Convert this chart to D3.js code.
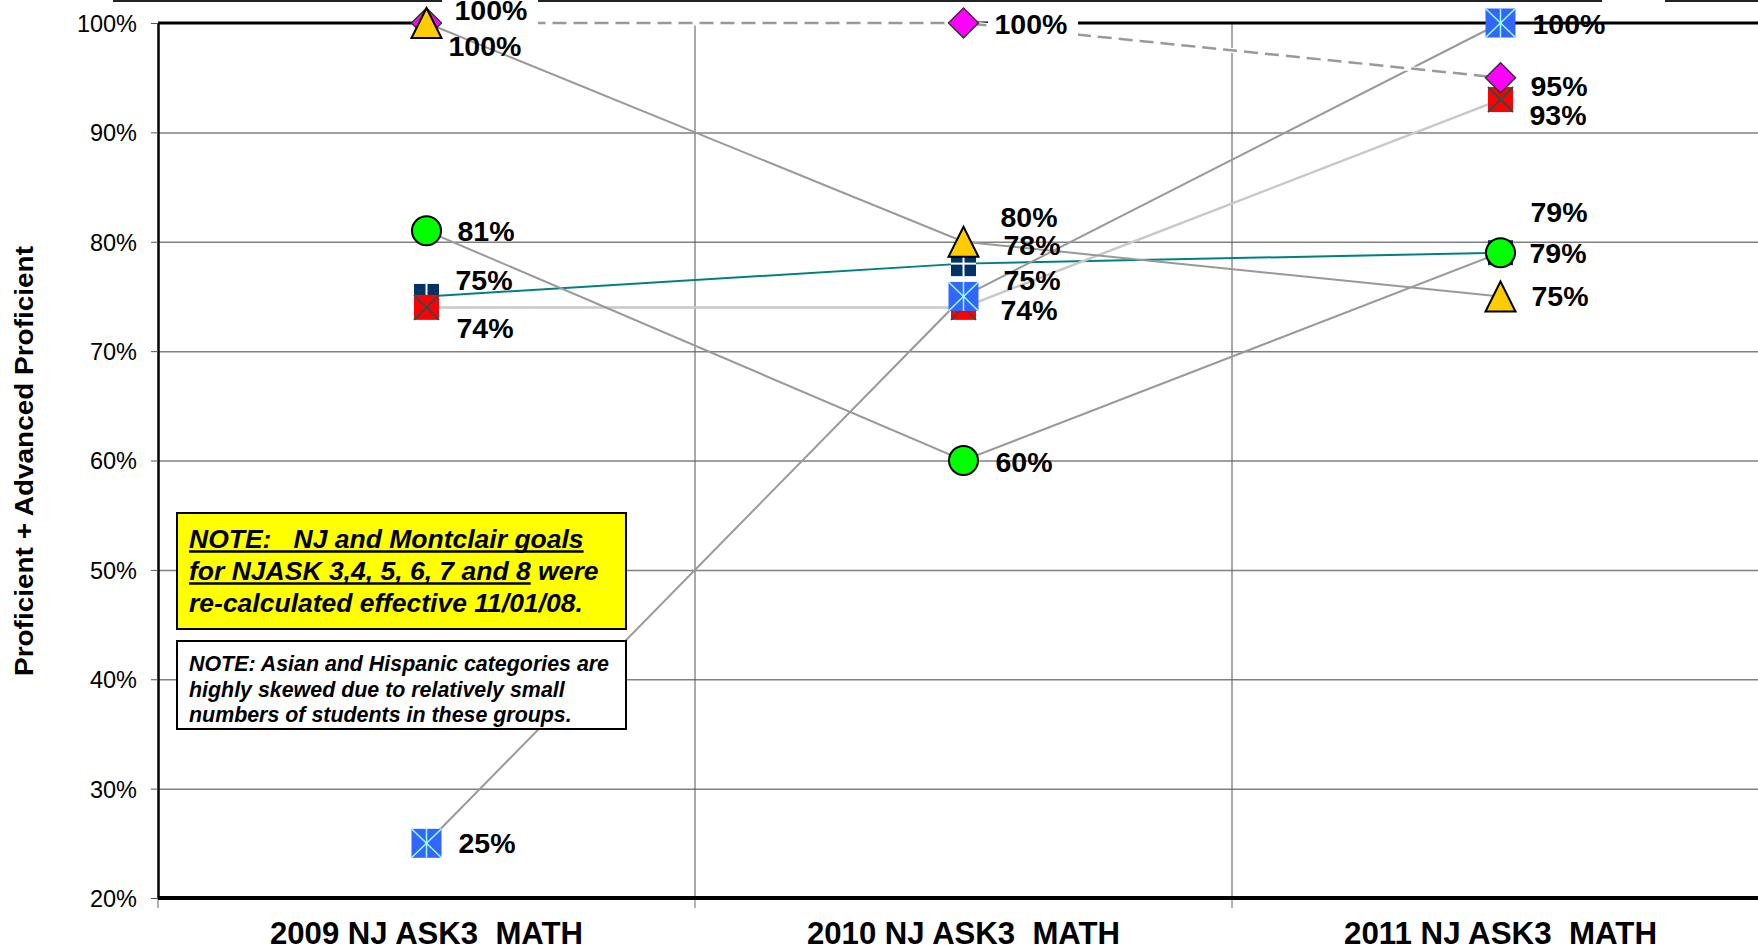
<!DOCTYPE html>
<html><head><meta charset="utf-8">
<script src="https://cdn.jsdelivr.net/npm/d3@7"></script>
<style>
body{margin:0;background:#fff;}
svg{display:block;font-family:"Liberation Sans",Arial,sans-serif;}
</style>
</head><body>
<script>
// ---------- data ----------
const categories = ["2009 NJ ASK3  MATH", "2010 NJ ASK3  MATH", "2011 NJ ASK3  MATH"];
const yTicks = [0.2, 0.3, 0.4, 0.5, 0.6, 0.7, 0.8, 0.9, 1.0];
const diamondValues  = [1.00, 1.00, 0.95];
const triangleValues = [1.00, 0.80, 0.75];
const circleValues   = [0.81, 0.60, 0.79];
const navyValues     = [0.75, 0.78, 0.79];
const redValues      = [0.74, 0.74, 0.93];
const blueValues     = [0.25, 0.75, 1.00];
const yTitle = "Proficient + Advanced Proficient";
const note1 = [
  [{t: "NOTE:   NJ and Montclair goals", u: true}],
  [{t: "for NJASK 3,4, 5, 6, 7 and 8", u: true}, {t: " were", u: false}],
  [{t: "re-calculated effective 11/01/08", u: false}, {t: ".", u: false}]
];
const note2 = [
  "NOTE: Asian and Hispanic categories are",
  "highly skewed due to relatively small",
  "numbers of students in these groups."
];

// ---------- layout / style ----------
const W = 1758, H = 948;
const plotL = 158, plotR = 1769, plotT = 23, plotB = 898;
const series = [
  {key: "navy",     values: navyValues,     stroke: "#008080", width: 2,   dash: null,   lab: [[29,-16],[40,-19],[30,-41]]},
  {key: "red",      values: redValues,      stroke: "#c8c8c8", width: 2.5, dash: null,   lab: [[30,21],[37,3],[29,15]]},
  {key: "blue",     values: blueValues,     stroke: "#999999", width: 2,   dash: null,   lab: [[32,0],[40,-16],[32,1]]},
  {key: "diamond",  values: diamondValues,  stroke: "#999999", width: 2.5, dash: "14,7", lab: [[28,-13],[31,1],[30,8]]},
  {key: "triangle", values: triangleValues, stroke: "#999999", width: 2,   dash: null,   lab: [[22,23],[37,-25],[31,0]]},
  {key: "circle",   values: circleValues,   stroke: "#999999", width: 2,   dash: null,   lab: [[31,0],[32,1],[29,0]]}
];

const svg = d3.select("body").append("svg").attr("width", W).attr("height", H);

const x = d3.scaleBand().domain(categories).range([plotL, plotR]).paddingInner(0).paddingOuter(0);
const y = d3.scaleLinear().domain([0.2, 1.0]).range([plotB, plotT]);
const cx = c => x(c) + x.bandwidth() / 2;

// stray top border line of the image
svg.append("line").attr("x1", 113).attr("x2", 1602).attr("y1", 1).attr("y2", 1).attr("stroke", "#222").attr("stroke-width", 2);
svg.append("line").attr("x1", 1665).attr("x2", W).attr("y1", 1).attr("y2", 1).attr("stroke", "#222").attr("stroke-width", 2);

// horizontal gridlines
const grid = svg.append("g").attr("transform", `translate(${plotL},0)`)
  .call(d3.axisLeft(y).tickValues(yTicks.filter(v => v > 0.2 && v < 1.0)).tickSize(-(plotR - plotL)).tickFormat(""));
grid.select(".domain").remove();
grid.selectAll(".tick line").attr("stroke", "#808080").attr("stroke-width", 1.5);

// vertical gridlines at category boundaries
svg.append("g").selectAll("line").data(categories.slice(1)).join("line")
  .attr("x1", d => x(d)).attr("x2", d => x(d)).attr("y1", plotT).attr("y2", plotB)
  .attr("stroke", "#555").attr("stroke-width", 1);

// x-axis boundary ticks
svg.append("g").selectAll("line").data(categories).join("line")
  .attr("x1", d => x(d)).attr("x2", d => x(d)).attr("y1", plotB).attr("y2", plotB + 10)
  .attr("stroke", "#666").attr("stroke-width", 1);

// top and bottom plot borders
svg.append("line").attr("x1", plotL).attr("x2", plotR).attr("y1", y(1.0)).attr("y2", y(1.0)).attr("stroke", "#000").attr("stroke-width", 3);
svg.append("line").attr("x1", plotL).attr("x2", plotR).attr("y1", y(0.2)).attr("y2", y(0.2)).attr("stroke", "#000").attr("stroke-width", 4);

// y axis
const yAxis = svg.append("g").attr("transform", `translate(${plotL},0)`)
  .call(d3.axisLeft(y).tickValues(yTicks).tickSize(7).tickSizeOuter(0).tickPadding(14).tickFormat(d3.format(".0%")));
yAxis.select(".domain").attr("stroke", "#000").attr("stroke-width", 2.5);
yAxis.selectAll(".tick line").attr("stroke", "#555");
yAxis.selectAll(".tick text").attr("font-size", 23.5).attr("font-family", "'Liberation Sans', Arial, sans-serif").attr("fill", "#000").attr("dy", "0.36em");

// x axis labels
const xAxis = svg.append("g").attr("transform", `translate(0,${plotB})`)
  .call(d3.axisBottom(x).tickSize(0).tickSizeOuter(0));
xAxis.select(".domain").remove();
xAxis.selectAll(".tick text").attr("y", 46).attr("dy", 0)
  .attr("font-size", 31).attr("font-weight", "bold").attr("fill", "#000")
  .attr("font-family", "'Liberation Sans', Arial, sans-serif")
  .attr("textLength", 313).attr("lengthAdjust", "spacingAndGlyphs")
  .attr("xml:space", "preserve").style("white-space", "pre");

// y title
svg.append("text").attr("transform", `translate(33,461) rotate(-90)`)
  .attr("text-anchor", "middle").attr("font-size", 25.5).attr("font-weight", "bold")
  .attr("textLength", 430).attr("lengthAdjust", "spacingAndGlyphs")
  .text(yTitle);

// series lines
const line = d3.line().x((d, i) => cx(categories[i])).y(d => y(d));
series.forEach(s => {
  if (s.dash) {
    svg.append("path").attr("d", line(s.values)).attr("fill", "none").attr("stroke", "#fff").attr("stroke-width", 5);
  }
  svg.append("path").attr("d", line(s.values)).attr("fill", "none")
    .attr("stroke", s.stroke).attr("stroke-width", s.width)
    .attr("stroke-dasharray", s.dash);
});

// markers
function marker(g, type, px, py) {
  if (type === "diamond") {
    g.append("path").attr("d", `M${px},${py-15}L${px+15},${py}L${px},${py+15}L${px-15},${py}Z`)
      .attr("fill", "#ff00ff").attr("stroke", "#333").attr("stroke-width", 1.5);
  } else if (type === "triangle") {
    g.append("path").attr("d", `M${px},${py-15}L${px+15},${py+15}L${px-15},${py+15}Z`)
      .attr("fill", "#ffcc00").attr("stroke", "#000").attr("stroke-width", 2).attr("stroke-linejoin", "miter");
  } else if (type === "circle") {
    g.append("circle").attr("cx", px).attr("cy", py).attr("r", 14.5)
      .attr("fill", "#00ff00").attr("stroke", "#000").attr("stroke-width", 2);
  } else if (type === "navy") {
    const h = 12.5;
    g.append("rect").attr("x", px-h).attr("y", py-h).attr("width", 2*h).attr("height", 2*h).attr("fill", "#003366");
    g.append("line").attr("x1", px).attr("x2", px).attr("y1", py-h).attr("y2", py+h).attr("stroke", "#fff").attr("stroke-width", 2);
    g.append("line").attr("x1", px-h).attr("x2", px+h).attr("y1", py).attr("y2", py).attr("stroke", "#fff").attr("stroke-width", 2);
  } else if (type === "red") {
    const h = 12.5;
    g.append("rect").attr("x", px-h).attr("y", py-h).attr("width", 2*h).attr("height", 2*h).attr("fill", "#ff0000");
    g.append("line").attr("x1", px-h).attr("x2", px+h).attr("y1", py-h).attr("y2", py+h).attr("stroke", "#444").attr("stroke-width", 2);
    g.append("line").attr("x1", px-h).attr("x2", px+h).attr("y1", py+h).attr("y2", py-h).attr("stroke", "#444").attr("stroke-width", 2);
  } else if (type === "blue") {
    const hw = 15, hh = 14.5;
    g.append("rect").attr("x", px-hw).attr("y", py-hh).attr("width", 2*hw).attr("height", 2*hh).attr("fill", "#3366ff");
    g.append("line").attr("x1", px-hw).attr("x2", px+hw).attr("y1", py-hh).attr("y2", py+hh).attr("stroke", "#99ffff").attr("stroke-width", 1.5);
    g.append("line").attr("x1", px-hw).attr("x2", px+hw).attr("y1", py+hh).attr("y2", py-hh).attr("stroke", "#99ffff").attr("stroke-width", 1.5);
    g.append("line").attr("x1", px).attr("x2", px).attr("y1", py-hh).attr("y2", py+hh).attr("stroke", "#99ffff").attr("stroke-width", 1.5);
  }
}
const mg = svg.append("g");
series.forEach(s => s.values.forEach((v, i) => marker(mg, s.key, cx(categories[i]), y(v))));

// white backgrounds of the two top data labels
svg.append("rect").attr("x", 442).attr("y", 0).attr("width", 96).attr("height", 26).attr("fill", "#fff");
svg.append("rect").attr("x", 988).attr("y", 8).attr("width", 90).attr("height", 30).attr("fill", "#fff");

// data labels
const fmt = d3.format(".0%");
const lg = svg.append("g").attr("font-size", 28.5).attr("font-weight", "bold").attr("fill", "#000");
series.forEach(s => s.values.forEach((v, i) => {
  lg.append("text").attr("x", cx(categories[i]) + s.lab[i][0]).attr("y", y(v) + s.lab[i][1] + 10).text(fmt(v));
}));

// note boxes
const n1 = svg.append("g");
n1.append("rect").attr("x", 177).attr("y", 513).attr("width", 449).attr("height", 116)
  .attr("fill", "#ffff00").attr("stroke", "#000").attr("stroke-width", 2);
note1.forEach((segs, li) => {
  let cur = 189;
  const by = 548 + li * 32;
  segs.forEach(sg => {
    const t = n1.append("text").attr("x", cur).attr("y", by).attr("font-size", 26.5)
      .attr("font-weight", "bold").attr("font-style", "italic")
      .attr("xml:space", "preserve").style("white-space", "pre").text(sg.t);
    const len = t.node().getComputedTextLength();
    if (sg.u) n1.append("line").attr("x1", cur).attr("x2", cur + len).attr("y1", by + 3.5).attr("y2", by + 3.5)
      .attr("stroke", "#000").attr("stroke-width", 2.5);
    cur += len;
  });
});
const n2 = svg.append("g");
n2.append("rect").attr("x", 177).attr("y", 641).attr("width", 449).attr("height", 88)
  .attr("fill", "#fff").attr("stroke", "#000").attr("stroke-width", 2);
note2.forEach((t, li) => {
  n2.append("text").attr("x", 189).attr("y", 671 + li * 25.5).attr("font-size", 21.4)
    .attr("font-weight", "bold").attr("font-style", "italic").text(t);
});
</script>
</body></html>
